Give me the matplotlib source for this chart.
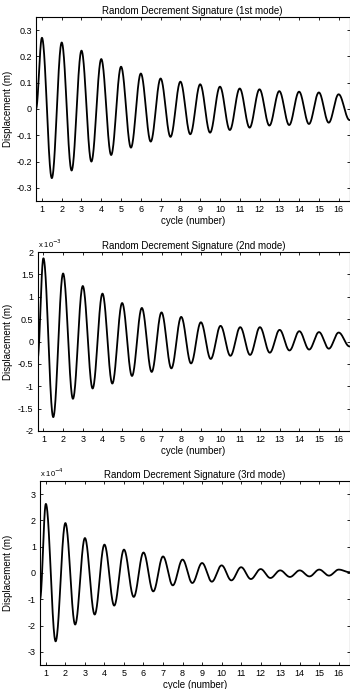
import numpy as np
import matplotlib
matplotlib.use("Agg")
from matplotlib import pyplot as plt
from matplotlib import ticker

plt.rcParams['font.family'] = ['Liberation Sans', 'DejaVu Sans']

# extrema (peaks at whole cycles, troughs at half cycles)
peak_cycle = [1, 2, 3, 4, 5, 6, 7, 8, 9, 10, 11, 12, 13, 14, 15, 16]
trough_cycle = [1.5, 2.5, 3.5, 4.5, 5.5, 6.5, 7.5, 8.5, 9.5, 10.5, 11.5, 12.5, 13.5, 14.5, 15.5]
x_start = 0.7
x_end = 16.55

mode1_peaks = [0.271, 0.253, 0.222, 0.19, 0.161, 0.135, 0.116, 0.104, 0.094, 0.085,
               0.078, 0.075, 0.068, 0.066, 0.063, 0.056]
mode1_troughs = [-0.263, -0.234, -0.2, -0.175, -0.147, -0.124, -0.106, -0.096, -0.09,
                 -0.08, -0.071, -0.063, -0.061, -0.057, -0.052]
mode1_ends = [0.0, -0.042]

mode2_peaks = [1.86e-3, 1.52e-3, 1.24e-3, 1.07e-3, 0.86e-3, 0.75e-3, 0.65e-3, 0.55e-3,
               0.43e-3, 0.35e-3, 0.32e-3, 0.32e-3, 0.26e-3, 0.23e-3, 0.21e-3, 0.2e-3]
mode2_troughs = [-1.69e-3, -1.28e-3, -1.05e-3, -0.94e-3, -0.77e-3, -0.68e-3, -0.6e-3,
                 -0.49e-3, -0.39e-3, -0.32e-3, -0.3e-3, -0.25e-3, -0.2e-3, -0.18e-3, -0.16e-3]
mode2_ends = [-0.4e-3, -0.11e-3]

mode3_peaks = [2.63e-4, 1.9e-4, 1.33e-4, 1.08e-4, 0.89e-4, 0.78e-4, 0.63e-4, 0.51e-4,
               0.38e-4, 0.29e-4, 0.22e-4, 0.15e-4, 0.1e-4, 0.1e-4, 0.13e-4, 0.13e-4]
mode3_troughs = [-2.6e-4, -1.96e-4, -1.58e-4, -1.24e-4, -0.91e-4, -0.7e-4, -0.47e-4,
                 -0.38e-4, -0.33e-4, -0.28e-4, -0.23e-4, -0.19e-4, -0.15e-4, -0.13e-4, -0.1e-4]
mode3_ends = [-1.0e-4, 0.03e-4]

titles = ['Random Decrement Signature (1st mode)',
          'Random Decrement Signature (2nd mode)',
          'Random Decrement Signature (3rd mode)']
xticks = list(range(1, 17))


def smooth_trace(peaks, troughs, ends, n=40):
    # join the read extrema with half-cosine pieces so the line looks smooth
    px = [x_start]
    py = [ends[0]]
    for i in range(len(peak_cycle)):
        px.append(peak_cycle[i]); py.append(peaks[i])
        if i < len(trough_cycle):
            px.append(trough_cycle[i]); py.append(troughs[i])
    px.append(x_end); py.append(ends[1])
    xs, ys = [], []
    for i in range(len(px) - 1):
        t = np.linspace(0, 1, n, endpoint=False)
        xs.append(px[i] + (px[i + 1] - px[i]) * t)
        ys.append(py[i] + (py[i + 1] - py[i]) * (1 - np.cos(np.pi * t)) / 2)
    xs.append([px[-1]]); ys.append([py[-1]])
    return np.concatenate(xs), np.concatenate(ys)


fig = plt.figure(figsize=(3.5, 6.89), dpi=100)
W, H = 350.0, 689.0
# (left, top, bottom) in pixels
boxes = [(36, 17, 201), (37.5, 252, 431), (40, 481, 665)]
data = [(mode1_peaks, mode1_troughs, mode1_ends, 1.0, (-0.35, 0.35), np.arange(-0.3, 0.31, 0.1), None),
        (mode2_peaks, mode2_troughs, mode2_ends, 1e-3, (-2e-3, 2e-3), np.arange(-2, 2.01, 0.5) * 1e-3, r'x 10$^{-3}$'),
        (mode3_peaks, mode3_troughs, mode3_ends, 1e-4, (-3.5e-4, 3.5e-4), np.arange(-3, 3.01, 1) * 1e-4, r'x 10$^{-4}$')]

for k, (left, top, bottom) in enumerate(boxes):
    peaks, troughs, ends, scale, ylim, yticks, offset = data[k]
    width = 349.5 - left
    ax = fig.add_axes([left / W, 1 - bottom / H, width / W, (bottom - top) / H])
    x, y = smooth_trace(peaks, troughs, ends)
    ax.plot(x, y, color='black', lw=1.3)
    ax.set_xlim(x_start, x_end)
    ax.set_ylim(*ylim)
    ax.set_xticks(xticks)
    ax.set_yticks(yticks)
    ax.yaxis.set_major_formatter(ticker.FuncFormatter(lambda v, p, s=scale: '%g' % round(v / s, 6)))
    ax.tick_params(direction='in', length=2.5, width=0.6, labelsize=6.5, pad=3,
                   top=True, right=True, colors='black')
    for sp in ax.spines.values():
        sp.set_linewidth(0.8)
    ax.set_title(titles[k], fontsize=7, pad=2)
    ax.set_xlabel('cycle (number)', fontsize=7, labelpad=1)
    ax.set_ylabel('Displacement (m)', fontsize=7)
    ax.yaxis.set_label_coords(-(left - 13) / width, 0.5)
    if offset:
        ax.text(0.0, 1.01, offset, transform=ax.transAxes, fontsize=5.5, va='bottom', ha='left')

fig.savefig('out.png', dpi=100)
